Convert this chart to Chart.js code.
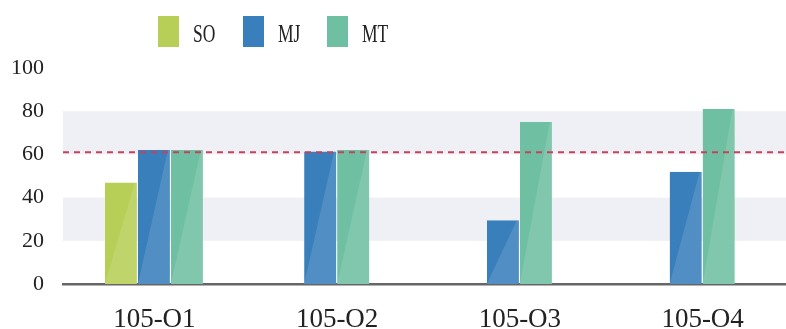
<!DOCTYPE html>
<html lang="en">
<head>
  <meta charset="UTF-8" />
  <title>105-O bars</title>
  <script src="https://cdn.jsdelivr.net/npm/chart.js"></script>
  <style>
    html, body { margin: 0; padding: 0; background: #fff; overflow: hidden }
    #wrap { position: relative; width: 794px; height: 329px }
    .lg-box { position: absolute; top: 16px; width: 21px; height: 31px }
    .lg-txt { position: absolute; top: 21px; font: 25px/25px 'Liberation Serif', serif; color: #222;
              transform: scaleX(0.7); transform-origin: left top; white-space: nowrap }
  </style>
</head>
<body>
  <div id="wrap">
    <canvas id="chart"></canvas>
    <div class="lg-box" style="left:158px;background:#b7cf57"></div>
    <div class="lg-txt" style="left:193px">SO</div>
    <div class="lg-box" style="left:243px;background:#387fbb"></div>
    <div class="lg-txt" style="left:278px">MJ</div>
    <div class="lg-box" style="left:327px;background:#6fc0a3"></div>
    <div class="lg-txt" style="left:362px">MT</div>
  </div>

  <script>
    const categories = ['105-O1', '105-O2', '105-O3', '105-O4'];
    const soValues = [47, null, null, null];
    const mjValues = [62, 61.3, 29.5, 52];
    const mtValues = [62, 62, 75, 81];
    const yTicks = [0, 20, 40, 60, 80, 100];
    const targetLine = 61;
    const bandRanges = [[20, 40], [60, 80]];

    // grey bands behind the bars
    const bands = {
      id: 'bands',
      beforeDatasetsDraw(chart) {
        const { ctx, chartArea, scales: { y } } = chart;
        ctx.save();
        ctx.fillStyle = '#eff0f5';
        for (const [lo, hi] of bandRanges) {
          const top = y.getPixelForValue(hi), bot = y.getPixelForValue(lo);
          ctx.fillRect(chartArea.left, top, chartArea.right - chartArea.left, bot - top);
        }
        ctx.restore();
      }
    };

    // lighter diagonal shine on each bar + dashed target line on top
    const overlay = {
      id: 'overlay',
      afterDatasetsDraw(chart) {
        const { ctx, chartArea, scales: { y } } = chart;
        ctx.save();
        ctx.fillStyle = 'rgba(255,255,255,0.12)';
        chart.data.datasets.forEach((ds, i) => {
          chart.getDatasetMeta(i).data.forEach((bar, j) => {
            if (ds.data[j] == null) return;
            const l = bar.x - bar.width / 2, r = bar.x + bar.width / 2 - 1;
            ctx.beginPath();
            ctx.moveTo(l, bar.base);
            ctx.lineTo(r - 2, bar.y);
            ctx.lineTo(r, bar.y);
            ctx.lineTo(r, bar.base);
            ctx.closePath();
            ctx.fill();
          });
        });
        const yy = y.getPixelForValue(targetLine);
        ctx.strokeStyle = '#c8415b';
        ctx.lineWidth = 2;
        ctx.setLineDash([6, 5]);
        ctx.beginPath();
        ctx.moveTo(chartArea.left, yy);
        ctx.lineTo(chartArea.right, yy);
        ctx.stroke();
        ctx.restore();
      }
    };

    const barCommon = {
      barThickness: 33,
      borderWidth: { right: 1 },
      borderColor: 'rgba(0,0,0,0)',
      borderSkipped: false,
      inflateAmount: 0,
      skipNull: true
    };

    new Chart(document.getElementById('chart'), {
      type: 'bar',
      data: {
        labels: categories,
        datasets: [
          { label: 'SO', data: soValues, backgroundColor: '#b7cf57', ...barCommon },
          { label: 'MJ', data: mjValues, backgroundColor: '#387fbb', ...barCommon },
          { label: 'MT', data: mtValues, backgroundColor: '#6fc0a3', ...barCommon }
        ]
      },
      options: {
        responsive: true,
        maintainAspectRatio: false,
        animation: false,
        layout: { padding: { top: 68, left: 11, right: 0, bottom: 0 } },
        plugins: { legend: { display: false }, tooltip: { enabled: false } },
        scales: {
          x: {
            afterFit(scale) { scale.height = 45; },
            grid: { display: false, drawTicks: false },
            border: { display: true, color: '#666', width: 2.5 },
            ticks: { color: '#222', padding: 20, font: { family: 'Liberation Serif', size: 27 } }
          },
          y: {
            min: 0, max: 100,
            afterBuildTicks(scale) { scale.ticks = yTicks.map(v => ({ value: v })); },
            afterFit(scale) { scale.width = 52; },
            grid: { display: false, drawTicks: false },
            border: { display: false },
            ticks: { color: '#222', padding: 19, font: { family: 'Liberation Serif', size: 22 } }
          }
        }
      },
      plugins: [bands, overlay]
    });
  </script>
</body>
</html>
